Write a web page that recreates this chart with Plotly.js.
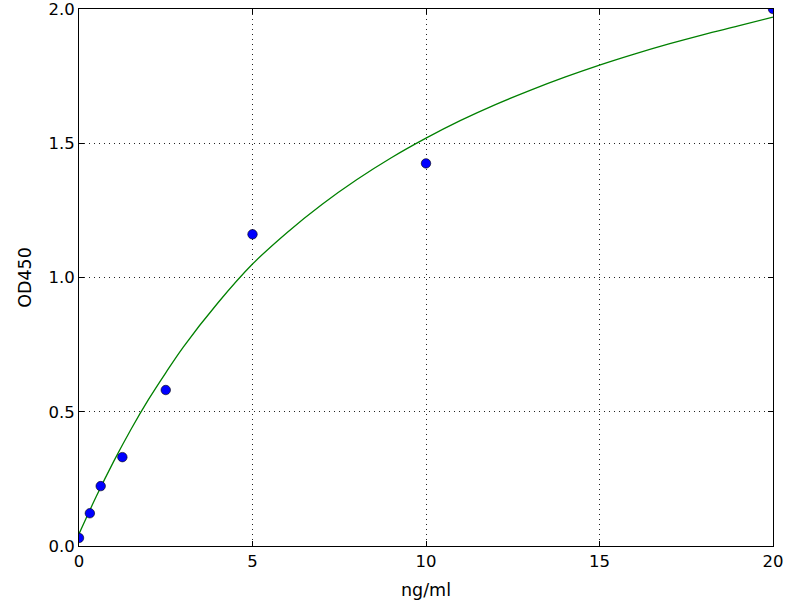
<!DOCTYPE html>
<html>
<head>
<meta charset="utf-8">
<script src="https://cdn.plot.ly/plotly-3.0.1.min.js"></script>
<style>
  html, body { margin: 0; padding: 0; background: #fff; }
  #chart { width: 800px; height: 600px; }
</style>
</head>
<body>
<div id="chart"></div>
<script>
// Standard points (ng/ml vs OD450)
const stdConc = [0, 0.3125, 0.625, 1.25, 2.5, 5, 10, 20];
const stdOD = [0.03, 0.122, 0.223, 0.331, 0.581, 1.161, 1.425, 2.0];

// Fitted curve
const fitConc = [0, 0.5, 1, 1.5, 2, 2.5, 3, 4, 5, 6, 7, 8, 9, 10, 11, 12, 13, 14, 15, 16, 17, 18, 19, 20];
const fitOD = [0.045, 0.185, 0.315, 0.435, 0.545, 0.645, 0.74, 0.905, 1.05, 1.168, 1.272, 1.364, 1.446, 1.519, 1.585, 1.644, 1.697, 1.746, 1.791, 1.832, 1.870, 1.905, 1.937, 1.970];

const xTicks = [0, 5, 10, 15, 20];
const yTicks = [0, 0.5, 1.0, 1.5, 2.0];

const font = { family: 'DejaVu Sans, sans-serif', size: 16.5, color: '#000' };
const titleFont = { ...font, size: 17.5 };

const axisBase = {
    showline: true, linecolor: '#000', linewidth: 1, mirror: 'ticks',
    ticks: 'inside', ticklen: 5, tickcolor: '#000', tickwidth: 1,
    showgrid: true, gridcolor: '#222', gridwidth: 1, griddash: '1px,4px',
    zeroline: false, tickfont: font, ticklabeloverflow: 'allow',
};

Plotly.newPlot('chart', [
    {
        type: 'scatter', mode: 'lines', x: fitConc, y: fitOD,
        line: { color: '#008000', width: 1.3, shape: 'spline' },
        hoverinfo: 'skip',
    },
    {
        type: 'scatter', mode: 'markers', x: stdConc, y: stdOD,
        marker: { color: '#0000ff', size: 9.5, line: { color: '#000', width: 0.6 } },
    },
], {
    width: 800, height: 600,
    paper_bgcolor: '#fff', plot_bgcolor: '#fff',
    margin: { l: 79, r: 27, t: 9, b: 54 },
    showlegend: false,
    font: font,
    xaxis: { ...axisBase, range: [0, 20.00001], tickvals: xTicks, ticktext: xTicks.map(String),
             title: { text: 'ng/ml', font: titleFont, standoff: 14 } },
    yaxis: { ...axisBase, range: [0, 2.000001], tickvals: yTicks, ticktext: yTicks.map(v => v.toFixed(1)),
             title: { text: 'OD450', font: titleFont, standoff: 12 } },
}, { displayModeBar: false, staticPlot: true });
</script>
</body>
</html>
